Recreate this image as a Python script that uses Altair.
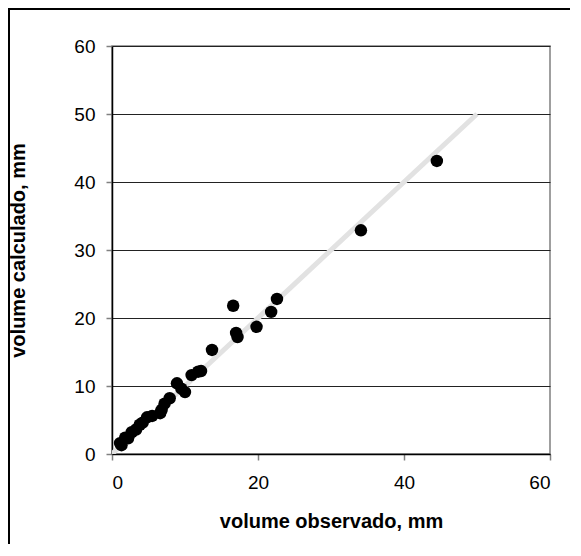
import altair as alt
import pandas as pd

observado = [44.5, 34.1, 16.6, 22.6, 21.8, 19.8, 17.2, 17.0, 13.7, 12.2, 11.8, 10.9,
             8.9, 10.0, 9.5, 7.9, 7.2, 6.8, 6.6, 5.5, 4.8, 4.2, 3.8, 3.3, 2.7, 2.2, 1.8, 1.1, 1.3]
calculado = [43.1, 32.9, 21.8, 22.8, 20.9, 18.7, 17.2, 17.8, 15.3, 12.2, 12.1, 11.6,
             10.4, 9.1, 9.6, 8.2, 7.4, 6.5, 6.0, 5.6, 5.4, 4.6, 4.3, 3.6, 3.2, 2.3, 2.4, 1.6, 1.3]
linha_x = [0, 50]
linha_y = [0, 50]

pts = pd.DataFrame({"obs": observado, "calc": calculado})
ref = pd.DataFrame({"obs": linha_x, "calc": linha_y})
frame_df = pd.DataFrame({"a": [0]})

W, H = 438, 408

xscale = alt.Scale(domain=[0, 60], nice=False, zero=True)
yscale = alt.Scale(domain=[0, 60], nice=False, zero=True)

line = alt.Chart(ref).mark_line(color="#e2e2e2", strokeWidth=5, clip=True).encode(
    x=alt.X("obs:Q", scale=xscale,
            axis=alt.Axis(values=[0, 20, 40, 60], grid=False, title="volume observado, mm",
                          titleX=W / 2, titleY=67, titleBaseline="middle",
                          labelPadding=13)),
    y=alt.Y("calc:Q", scale=yscale,
            axis=alt.Axis(values=[0, 10, 20, 30, 40, 50, 60], grid=True, title="volume calculado, mm",
                          titleX=-94, titleY=H / 2, titleBaseline="middle", titleAngle=270,
                          labelPadding=11)),
)

points = alt.Chart(pts).mark_circle(color="black", opacity=1, size=155).encode(
    x="obs:Q", y="calc:Q"
)

frame_left = alt.Chart(frame_df).mark_rule(color="black", strokeWidth=2, clip=False).encode(
    x=alt.value(-103), y=alt.value(-38), y2=alt.value(560)
)
frame_top = alt.Chart(frame_df).mark_rule(color="black", strokeWidth=2, clip=False).encode(
    y=alt.value(-37), x=alt.value(-104), x2=alt.value(600)
)

chart = alt.layer(line, points, frame_left, frame_top).properties(
    width=W, height=H,
    autosize=alt.AutoSizeParams(type="none"),
    padding={"left": 104, "top": 38, "right": 20, "bottom": 90},
    background="white",
).configure_view(
    stroke="#808080", strokeWidth=1.5
).configure_axis(
    domainColor="black", domainWidth=1.5,
    tickColor="#808080", tickSize=6, tickWidth=1.5,
    gridColor="#222222", gridWidth=1,
    labelFont="Liberation Sans", labelFontSize=19, labelColor="black",
    titleFont="Liberation Sans", titleFontSize=20, titleFontWeight="bold", titleColor="black",
    titleAlign="center",
)

chart.save("out.html", embed_options={"renderer": "svg", "actions": False})
